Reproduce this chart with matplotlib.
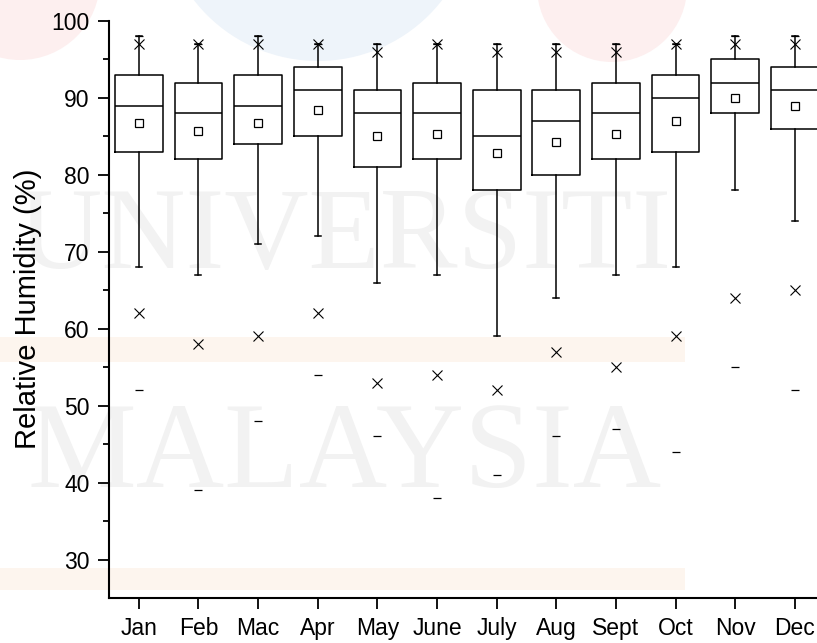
import matplotlib
matplotlib.use("Agg")
import matplotlib.pyplot as plt
from matplotlib.patches import Circle, Rectangle

months = ["Jan", "Feb", "Mac", "Apr", "May", "June", "July", "Aug", "Sept", "Oct", "Nov", "Dec"]
q1 = [83, 82, 84, 85, 81, 82, 78, 80, 82, 83, 88, 86]
median = [89, 88, 89, 91, 88, 88, 85, 87, 88, 90, 92, 91]
q3 = [93, 92, 93, 94, 91, 92, 91, 91, 92, 93, 95, 94]
mean = [86.8, 85.7, 86.8, 88.4, 85.0, 85.3, 82.8, 84.3, 85.3, 87.0, 90.0, 89.0]
whisk_lo = [68, 67, 71, 72, 66, 67, 59, 64, 67, 68, 78, 74]
whisk_hi = [98, 97, 98, 97, 97, 97, 97, 97, 97, 97, 98, 98]
p1 = [62, 58, 59, 62, 53, 54, 52, 57, 55, 59, 64, 65]
p99 = [97, 97, 97, 97, 96, 97, 96, 96, 96, 97, 97, 97]
vmin = [52, 39, 48, 54, 46, 38, 41, 46, 47, 44, 55, 52]
vmax = [98, 97, 98, 97, 97, 97, 97, 97, 97, 97, 98, 98]

plt.rcParams['font.family'] = ['Liberation Sans', 'DejaVu Sans']

W, H = 817, 643
fig = plt.figure(figsize=(W / 100, H / 100), dpi=100)

# faint watermark background
bg = fig.add_axes([0, 0, 1, 1], zorder=0)
bg.set_xlim(0, W)
bg.set_ylim(H, 0)
bg.axis("off")
bg.add_patch(Circle((20, -20), 80, color="#fdefef", lw=0))
bg.add_patch(Circle((318, -96), 157, color="#eef4fa", lw=0))
bg.add_patch(Circle((612, -13), 75, color="#fdefef", lw=0))
bg.add_patch(Rectangle((0, 337), 685, 25, color="#fdf5ee", lw=0))
bg.add_patch(Rectangle((0, 568), 685, 22, color="#fdf5ee", lw=0))
bg.text(345, 240, "UNIVERSITI", family="Liberation Serif", fontsize=84,
        color="#f2f2f2", ha="center", va="center")
bg.text(345, 457, "MALAYSIA", family="Liberation Serif", fontsize=88,
        color="#f2f2f2", ha="center", va="center")

ax = fig.add_axes([109 / W, 1 - 598 / H, 1 - 109 / W, (598 - 21) / H], zorder=1)
ax.patch.set_alpha(0)

pos = list(range(1, len(months) + 1))
stats = []
for i in range(len(months)):
    stats.append(dict(med=median[i], q1=q1[i], q3=q3[i], whislo=whisk_lo[i],
                      whishi=whisk_hi[i], mean=mean[i], fliers=[]))

lw = 1.1
ax.bxp(stats, positions=pos, widths=0.8, showmeans=True, showfliers=False,
       capwidths=0.1,
       boxprops=dict(color="black", linewidth=lw),
       medianprops=dict(color="black", linewidth=lw),
       whiskerprops=dict(color="black", linewidth=lw),
       capprops=dict(color="black", linewidth=lw),
       meanprops=dict(marker="s", markerfacecolor="white", markeredgecolor="black",
                      markersize=5.5, markeredgewidth=0.9))

ax.plot(pos, p1, linestyle="none", marker="x", color="black", markersize=6.5, markeredgewidth=0.8)
ax.plot(pos, p99, linestyle="none", marker="x", color="black", markersize=6.5, markeredgewidth=0.8)
ax.plot(pos, vmin, linestyle="none", marker="_", color="black", markersize=6, markeredgewidth=0.9)
ax.plot(pos, vmax, linestyle="none", marker="_", color="black", markersize=6, markeredgewidth=0.9)

ax.set_xlim(0.5, 12.37)
ax.set_ylim(25, 100)
ax.set_yticks([30, 40, 50, 60, 70, 80, 90, 100])
ax.set_yticks([35, 45, 55, 65, 75, 85, 95], minor=True)
ax.set_xticks(pos)
ax.set_xticklabels(months)
ax.tick_params(axis="both", which="major", direction="out", length=8, width=1.3,
               labelsize=16.5, colors="black")
ax.tick_params(axis="y", which="minor", direction="out", length=4.5, width=1.3)
ax.tick_params(axis="x", which="major", pad=6)
ax.tick_params(axis="y", which="major", pad=6)
for s in ["top", "right"]:
    ax.spines[s].set_visible(False)
for s in ["left", "bottom"]:
    ax.spines[s].set_linewidth(1.5)
ax.set_ylabel("Relative Humidity (%)", fontsize=21)
ax.yaxis.set_label_coords((42 - 109) / (W - 109), (598 - 308.5) / (598 - 21))

fig.savefig("out.png", dpi=100)
